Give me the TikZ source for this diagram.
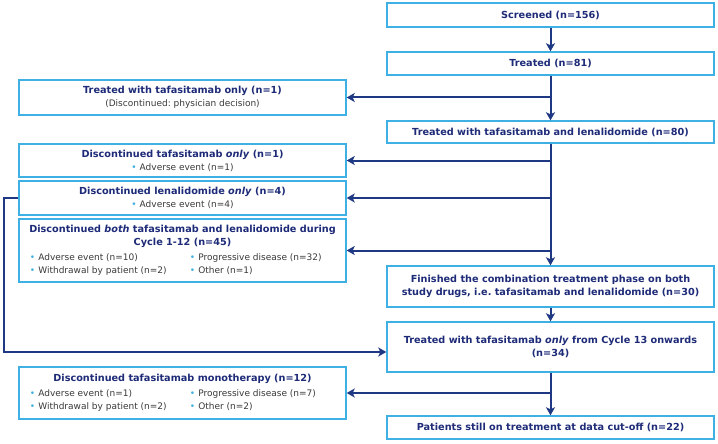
\documentclass[tikz,border=0pt]{standalone}
\usepackage{fontspec}
\setmainfont{DejaVu Sans}
\usetikzlibrary{calc}
\usetikzlibrary{arrows.meta}

\definecolor{navy}{HTML}{1E2B78}
\definecolor{arrowblue}{HTML}{1F3883}
\definecolor{skyline}{HTML}{3FB0E3}
\definecolor{greytext}{HTML}{3A3A3A}

\frenchspacing
\newcommand{\detail}[1]{{\fontsize{9}{13}\selectfont\mdseries\color{greytext}#1}}
\newcommand{\bul}{\textcolor{skyline}{\textbullet}\hspace{3pt}}
\newcommand{\tworow}[2]{\makebox[319pt][l]{\hspace{7pt}%
    \makebox[160pt][l]{\bul #1}\bul #2}}

\begin{document}
\begin{tikzpicture}[x=1pt, y=-1pt,
    >={Stealth[length=8pt, width=9pt, inset=2pt]},
    box/.style={draw=skyline, line width=1.4pt, fill=white,
      minimum width=327pt, inner xsep=4pt, inner ysep=2pt,
      align=center, text=navy,
      font=\fontsize{9.7}{13}\selectfont\bfseries}]
  \path[use as bounding box, fill=white] (0, 0) rectangle (718, 444);

  % main column
  \node[box, minimum height=24pt] (screened) at (550.5, 15) {Screened (n=156)};
  \node[box, minimum height=23pt] (treated) at (550.5, 63.5) {Treated (n=81)};
  \node[box, minimum height=22pt] (combo) at (550.5, 132)
    {Treated with tafasitamab and lenalidomide (n=80)};
  \node[box, minimum height=41pt] (finished) at (550.5, 286.5)
    {Finished the combination treatment phase on both\\
     study drugs, i.e. tafasitamab and lenalidomide (n=30)};
  \node[box, minimum height=50pt] (monot) at (550.5, 347)
    {Treated with tafasitamab \textit{only} from Cycle 13 onwards\\ (n=34)};
  \node[box, minimum height=23pt] (still) at (550.5, 427.5)
    {Patients still on treatment at data cut-off (n=22)};

  % side column
  \node[box, minimum height=35pt] (tonly) at (182.5, 97.5)
    {Treated with tafasitamab only (n=1)\\
     \detail{(Discontinued: physician decision)}};
  \node[box, minimum height=33pt] (disct) at (182.5, 160.5)
    {Discontinued tafasitamab \textit{only} (n=1)\\
     \detail{\bul Adverse event (n=1)}};
  \node[box, minimum height=34pt] (discl) at (182.5, 198)
    {Discontinued lenalidomide \textit{only} (n=4)\\
     \detail{\bul Adverse event (n=4)}};
  \node[box, minimum height=63pt] (discboth) at (182.5, 250.5)
    {Discontinued \textit{both} tafasitamab and lenalidomide during\\
     Cycle 1-12 (n=45)\\[2pt]
     \detail{\tworow{Adverse event (n=10)}{Progressive disease (n=32)}}\\
     \detail{\tworow{Withdrawal by patient (n=2)}{Other (n=1)}}};
  \node[box, minimum height=52pt] (discmono) at (182.5, 393)
    {Discontinued tafasitamab monotherapy (n=12)\\[2pt]
     \detail{\tworow{Adverse event (n=1)}{Progressive disease (n=7)}}\\
     \detail{\tworow{Withdrawal by patient (n=2)}{Other (n=2)}}};

  \begin{scope}[draw=arrowblue, line width=2pt]
    \draw[->] (screened) -- (treated);
    \draw[->] (treated) -- (combo);
    \draw[->] (combo) -- (finished);
    \draw[->] (finished) -- (monot);
    \draw[->] (monot) -- (still);
    \draw[->] (treated.south |- tonly.east) -- (tonly.east);
    \foreach \b in {disct, discl, discboth}{
      \draw[->] (combo.south |- \b.east) -- (\b.east);
    }
    \draw[->] (monot.south |- discmono.east) -- (discmono.east);
    \draw[->] (discl.west) -- ++(-14.5, 0) |- ([yshift=-5pt]monot.west);
  \end{scope}
\end{tikzpicture}
\end{document}
